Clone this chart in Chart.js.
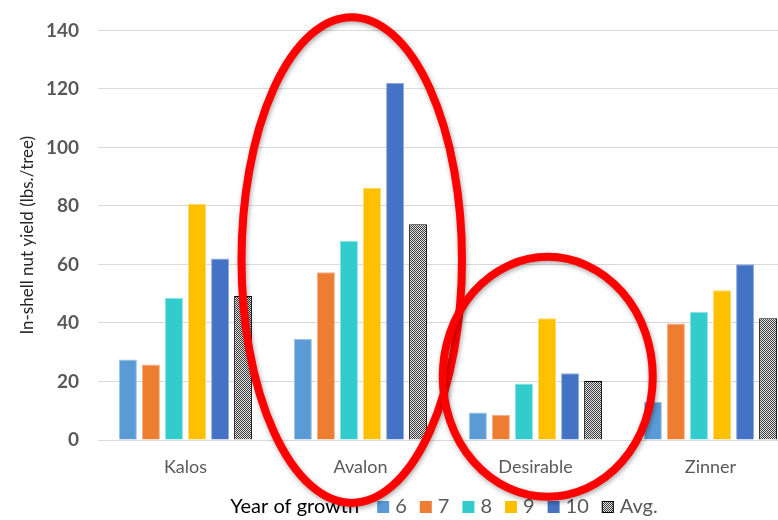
<!DOCTYPE html>
<html>
<head>
<meta charset="utf-8">
<script src="https://cdn.jsdelivr.net/npm/chart.js@4.4.1/dist/chart.umd.min.js"></script>
<style>
  html, body { margin: 0; padding: 0; background: #fff; overflow: hidden; }
  #wrap { width: 778px; height: 520px; overflow: hidden; position: relative; }
  #box { width: 800px; height: 520px; position: absolute; left: 0; top: 0; }
</style>
</head>
<body>
<div id="wrap"><div id="box"><canvas id="c"></canvas></div></div>
<script>
// Cultivars and yields (lbs./tree) by year of growth
const categories = ['Kalos', 'Avalon', 'Desirable', 'Zinner'];
const seriesNames = ['6', '7', '8', '9', '10', 'Avg.'];
const year6  = [27.5, 34.5, 9.4, 13.0];
const year7  = [25.8, 57.3, 8.6, 39.8];
const year8  = [48.6, 68.1, 19.3, 43.8];
const year9  = [80.7, 86.1, 41.6, 51.2];
const year10 = [62.0, 122.0, 22.8, 60.1];
const yearAvg = [49.2, 73.7, 20.2, 41.6];
const yTicks = [0, 20, 40, 60, 80, 100, 120, 140];

const FONT = 'Lato, "Open Sans", "DejaVu Sans", sans-serif';
const colors = ['#5B9BD5', '#ED7D31', '#33CCCC', '#FFC000', '#4472C4'];
const edges  = ['#9DC3E6', '#F4B183', '#8FE3E3', '#FFD966', '#8FAADC'];

const canvas = document.getElementById('c');
const ctx0 = canvas.getContext('2d');

// fine checkerboard fill used for the average bars
function makeChecker() {
  const p = document.createElement('canvas');
  p.width = 2; p.height = 2;
  const g = p.getContext('2d');
  g.fillStyle = '#e4e4e4'; g.fillRect(0, 0, 2, 2);
  g.fillStyle = '#3c3c3c'; g.fillRect(0, 0, 1, 1); g.fillRect(1, 1, 1, 1);
  return ctx0.createPattern(p, 'repeat');
}
const checker = makeChecker();

const values = [year6, year7, year8, year9, year10, yearAvg];
const datasets = values.map((v, i) => ({
  label: seriesNames[i],
  data: v,
  backgroundColor: i < 5 ? colors[i] : checker,
  borderColor: i < 5 ? edges[i] : '#000000',
  borderWidth: 1,
  categoryPercentage: 0.79,
  barPercentage: 0.78
}));

// highlight ellipses: centre on a category (with offset in category widths), vertical extent in axis units
const highlights = [
  { cat: 1, dx: -0.05, yMid: 61.5, rx: 0.63, ry: 83 },
  { cat: 2, dx: 0.07, yMid: 21.6, rx: 0.60, ry: 41 }
];

const overlayPlugin = {
  id: 'overlay',
  afterDraw(chart) {
    const ctx = chart.ctx;
    const xs = chart.scales.x, ys = chart.scales.y;
    const area = chart.chartArea;

    // legend row: title followed by swatches
    ctx.save();
    ctx.textBaseline = 'middle';
    const yMidL = 507;
    ctx.font = '20px ' + FONT;
    const title = 'Year of growth';
    const titleW = ctx.measureText(title).width;
    const box = 12, gapBox = 6, gapItem = 13, gapTitle = 18;
    let total = titleW + gapTitle;
    const labW = seriesNames.map(s => ctx.measureText(s).width);
    labW.forEach((w, i) => { total += box + gapBox + w + (i < labW.length - 1 ? gapItem : 0); });
    let x = (area.left + area.right) / 2 - total / 2 - 4;
    ctx.fillStyle = '#000000';
    ctx.fillText(title, x, yMidL);
    x += titleW + gapTitle;
    seriesNames.forEach((s, i) => {
      if (i < 5) {
        ctx.fillStyle = colors[i];
        ctx.fillRect(x, yMidL - box / 2, box, box);
      } else {
        ctx.fillStyle = checker;
        ctx.fillRect(x, yMidL - box / 2, box, box);
        ctx.strokeStyle = '#000';
        ctx.lineWidth = 1;
        ctx.strokeRect(x + 0.5, yMidL - box / 2 + 0.5, box - 1, box - 1);
      }
      x += box + gapBox;
      ctx.fillStyle = '#595959';
      ctx.fillText(s, x, yMidL);
      x += labW[i] + gapItem;
    });
    ctx.restore();

    // red highlight ellipses
    const catW = (area.right - area.left) / categories.length;
    ctx.save();
    ctx.strokeStyle = '#FF0000';
    ctx.lineWidth = 8;
    ctx.shadowColor = 'rgba(0,0,0,0.35)';
    ctx.shadowBlur = 5;
    ctx.shadowOffsetX = 1;
    ctx.shadowOffsetY = 2;
    highlights.forEach(h => {
      const cx = xs.getPixelForValue(h.cat) + h.dx * catW;
      const cy = ys.getPixelForValue(h.yMid);
      const rx = h.rx * catW;
      const ry = Math.abs(ys.getPixelForValue(h.yMid + h.ry) - cy);
      ctx.beginPath();
      ctx.ellipse(cx, cy, rx, ry, 0, 0, Math.PI * 2);
      ctx.stroke();
    });
    ctx.restore();
  }
};

new Chart(canvas, {
  type: 'bar',
  data: { labels: categories, datasets },
  plugins: [overlayPlugin],
  options: {
    responsive: true,
    maintainAspectRatio: false,
    animation: false,
    layout: { padding: { top: 25, right: 2, left: 0, bottom: 0 } },
    plugins: { legend: { display: false }, tooltip: { enabled: false } },
    scales: {
      x: {
        grid: { display: false },
        border: { display: true, color: '#D9D9D9' },
        ticks: { color: '#595959', font: { family: FONT, size: 18 }, padding: 8 },
        afterFit(s) { s.height = 80; }
      },
      y: {
        min: 0, max: 140,
        afterBuildTicks(s) { s.ticks = yTicks.map(v => ({ value: v })); },
        ticks: { color: '#595959', font: { family: FONT, size: 19, weight: 'bold' }, padding: 19 },
        grid: { color: '#D9D9D9', drawTicks: false },
        border: { display: false },
        title: {
          display: true,
          text: 'In-shell nut yield (lbs./tree)',
          color: '#262626',
          font: { family: FONT, size: 17 },
          padding: { top: 17, bottom: 0 }
        },
        afterFit(s) { s.width = 98; }
      }
    }
  }
});
</script>
</body>
</html>
